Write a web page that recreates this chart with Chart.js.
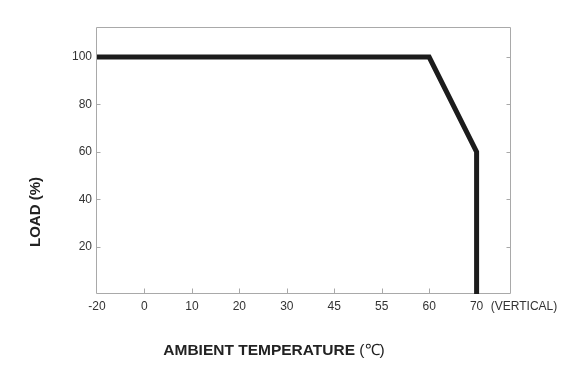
<!DOCTYPE html>
<html><head><meta charset="utf-8">
<script src="https://cdn.jsdelivr.net/npm/chart.js"></script>
<style>html,body{margin:0;padding:0;background:#fff}canvas{display:block}</style>
</head><body>
<canvas id="c" width="568" height="372" style="width:568px;height:372px"></canvas>
<script>
// ---- data ----
const categories = ['-20', '0', '10', '20', '30', '45', '55', '60', '70'];
const extraLabel = '(VERTICAL)';
const curveTemps = ['-20', '60', '70', '70'];
const curveLoad = [100, 100, 60, 0];
const yTicks = [20, 40, 60, 80, 100];
const xTitle = 'AMBIENT TEMPERATURE ';
const xTitleUnit = '(℃)';
const yTitle = 'LOAD (%)';
const yMax = 112.7;
const xMax = 8.725;

const allLabels = categories.concat([extraLabel]);
const points = curveTemps.map((t, i) => ({ x: categories.indexOf(t), y: curveLoad[i] }));

const BORDER = '#a9a9a9';
const TEXT = '#333333';

const framePlugin = {
  id: 'frame',
  beforeDatasetsDraw(chart) {
    const { ctx, chartArea: a, scales: { x, y } } = chart;
    ctx.save();
    ctx.strokeStyle = BORDER;
    ctx.lineWidth = 1;
    const L = Math.round(a.left) - 0.5, R = Math.round(a.right) - 0.5;
    const T = Math.round(a.top) + 0.5, B = Math.round(a.bottom) - 0.5;
    ctx.beginPath();
    ctx.moveTo(L, T); ctx.lineTo(R, T); ctx.lineTo(R, B); ctx.lineTo(L, B); ctx.closePath();
    // x ticks (inward)
    for (let i = 1; i < categories.length; i++) {
      const px = Math.round(x.getPixelForValue(i)) + 0.5;
      ctx.moveTo(px, B); ctx.lineTo(px, B - 5);
    }
    // y ticks, left and right (inward)
    yTicks.forEach(v => {
      const py = Math.round(y.getPixelForValue(v)) + 0.5;
      ctx.moveTo(L, py); ctx.lineTo(L + 4, py);
      ctx.moveTo(R, py); ctx.lineTo(R - 4, py);
    });
    ctx.stroke();
    ctx.restore();
  },
  afterDraw(chart) {
    const { ctx } = chart;
    ctx.save();
    ctx.fillStyle = '#222';
    ctx.textBaseline = 'middle';
    // x title
    const fb = 'bold 15.5px "Liberation Sans", Arial, sans-serif';
    const fn = '15.5px "Liberation Sans", Arial, sans-serif';
    ctx.font = fb; const w1 = ctx.measureText(xTitle).width;
    ctx.font = fn; const w2 = ctx.measureText(xTitleUnit).width;
    const sx = 274 - (w1 + w2) / 2;
    ctx.textAlign = 'left';
    ctx.font = fb; ctx.fillText(xTitle, sx, 351);
    ctx.font = fn; ctx.fillText(xTitleUnit, sx + w1, 351);
    // y title
    ctx.translate(35.5, 212);
    ctx.rotate(-Math.PI / 2);
    ctx.textAlign = 'center';
    ctx.font = 'bold 15px "Liberation Sans", Arial, sans-serif';
    ctx.fillText(yTitle, 0, 0);
    ctx.restore();
  }
};

new Chart(document.getElementById('c'), {
  type: 'line',
  data: {
    datasets: [{
      data: points,
      borderColor: '#1c1c1c',
      borderWidth: 5,
      pointRadius: 0,
      tension: 0,
      fill: false,
      borderJoinStyle: 'miter',
      borderCapStyle: 'butt'
    }]
  },
  options: {
    responsive: false,
    devicePixelRatio: 1,
    animation: false,
    layout: { padding: { top: 27, right: 57, left: 0, bottom: 0 } },
    plugins: { legend: { display: false }, tooltip: { enabled: false } },
    scales: {
      x: {
        type: 'linear',
        min: 0,
        max: xMax,
        grid: { display: false, drawTicks: false, tickLength: 0 },
        border: { display: false },
        afterBuildTicks: s => { s.ticks = allLabels.map((l, i) => ({ value: i })); },
        afterFit: s => { s.height = 78; },
        ticks: {
          autoSkip: false,
          maxRotation: 0,
          padding: 5,
          color: TEXT,
          font: { family: '"Liberation Sans", Arial, sans-serif', size: 12 },
          callback: v => allLabels[v]
        }
      },
      y: {
        type: 'linear',
        min: 0,
        max: yMax,
        grid: { display: false, drawTicks: false, tickLength: 0 },
        border: { display: false },
        afterBuildTicks: s => { s.ticks = yTicks.map(v => ({ value: v })); },
        afterFit: s => { s.width = 97; },
        ticks: {
          padding: 5,
          color: TEXT,
          font: { family: '"Liberation Sans", Arial, sans-serif', size: 12 }
        }
      }
    }
  },
  plugins: [framePlugin]
});
</script>
</body></html>
